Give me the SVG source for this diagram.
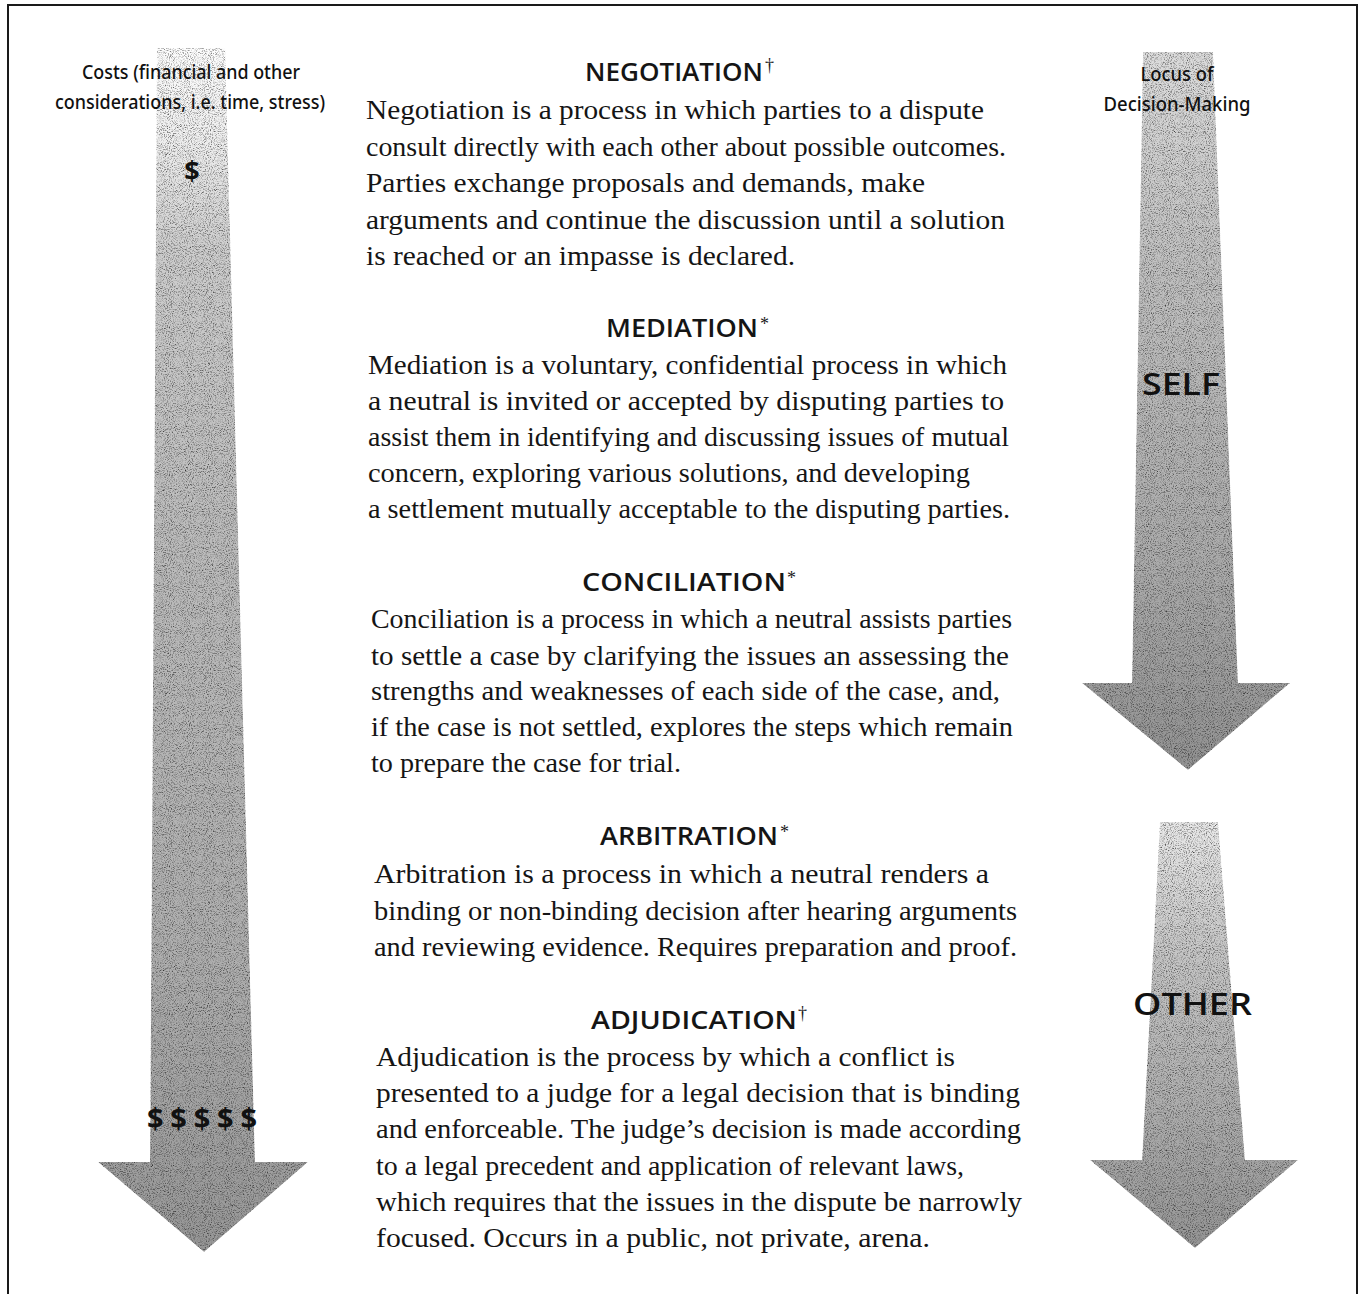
<svg xmlns="http://www.w3.org/2000/svg" width="1368" height="1294" viewBox="0 0 1368 1294">
<style>
.frame{fill:none;stroke:#1a1a1a;stroke-width:2}
.head{font-family:"Open Sans","Noto Sans",sans-serif;font-weight:600;font-size:25px;fill:#151515}
.sup{font-family:"Liberation Serif",serif;font-size:18px;fill:#1a1a1a}
.body{font-family:"Liberation Serif","Times New Roman",serif;font-size:28px;fill:#151515}
.lab{font-family:"Noto Sans","Open Sans",sans-serif;font-weight:500;font-size:20px;fill:#111}
.big{font-family:"Open Sans","Noto Sans",sans-serif;font-weight:600;font-size:30px;fill:#111}
.dol{font-family:"Open Sans","Noto Sans",sans-serif;font-weight:700;fill:#111}
</style>
<defs>
<filter id="grain" x="0" y="0" width="100%" height="100%" color-interpolation-filters="sRGB">
<feTurbulence type="fractalNoise" baseFrequency="0.95" numOctaves="2" seed="4" result="n"/>
<feColorMatrix in="n" type="matrix" values="0.8 0.8 0.8 0 -0.25  0.8 0.8 0.8 0 -0.25  0.8 0.8 0.8 0 -0.25  0 0 0 0 1" result="g"/>
<feBlend in="SourceGraphic" in2="g" mode="multiply" result="m"/>
<feComposite in="m" in2="SourceGraphic" operator="in"/>
</filter>
<linearGradient id="gL" gradientUnits="userSpaceOnUse" x1="0" y1="45" x2="0" y2="1252">
<stop offset="0" stop-color="#fdfdfd"/>
<stop offset="0.08" stop-color="#eeeeee"/>
<stop offset="0.17" stop-color="#cdcdcd"/>
<stop offset="0.4" stop-color="#bcbcbc"/>
<stop offset="0.75" stop-color="#afafaf"/>
<stop offset="1" stop-color="#979797"/>
</linearGradient>
<linearGradient id="gR1" gradientUnits="userSpaceOnUse" x1="0" y1="52" x2="0" y2="770">
<stop offset="0" stop-color="#dcdcdc"/>
<stop offset="0.3" stop-color="#c0c0c0"/>
<stop offset="0.7" stop-color="#acacac"/>
<stop offset="1" stop-color="#929292"/>
</linearGradient>
<linearGradient id="gR2" gradientUnits="userSpaceOnUse" x1="0" y1="822" x2="0" y2="1248">
<stop offset="0" stop-color="#e8e8e8"/>
<stop offset="0.3" stop-color="#c6c6c6"/>
<stop offset="0.7" stop-color="#acacac"/>
<stop offset="1" stop-color="#949494"/>
</linearGradient>
</defs>
<rect width="1368" height="1294" fill="#ffffff"/>
<path class="frame" d="M8,1294 L8,5 L1357,5 L1357,1294"/>

<g id="connectors">
<polygon id="cost-arrow" fill="url(#gL)" filter="url(#grain)" points="157,48 225,48 255,1162 308,1162 204,1252 98,1162 150,1162"/>
<polygon id="self-arrow" fill="url(#gR1)" filter="url(#grain)" points="1143,52 1213,52 1238,683 1290,683 1188,770 1082,683 1132,683"/>
<polygon id="other-arrow" fill="url(#gR2)" filter="url(#grain)" points="1160,822 1218,822 1245,1160 1298,1160 1195,1248 1090,1160 1142,1160"/>
</g>

<g id="costs-label">
<text class="lab" x="191" y="79" text-anchor="middle" textLength="218" lengthAdjust="spacingAndGlyphs">Costs (financial and other</text>
<text class="lab" x="190" y="109" text-anchor="middle" textLength="270" lengthAdjust="spacingAndGlyphs">considerations, i.e. time, stress)</text>
<text class="dol" x="192" y="180" text-anchor="middle" font-size="27">$</text>
<text class="dol" x="147" y="1129" font-size="29" textLength="110" lengthAdjust="spacing">$$$$$</text>
</g>

<g id="locus-label">
<text class="lab" x="1177" y="81" text-anchor="middle" textLength="73" lengthAdjust="spacingAndGlyphs">Locus of</text>
<text class="lab" x="1177" y="111" text-anchor="middle" textLength="147" lengthAdjust="spacingAndGlyphs">Decision-Making</text>
<text class="big" x="1142" y="395" textLength="78" lengthAdjust="spacingAndGlyphs">SELF</text>
<text class="big" x="1133" y="1015" textLength="119" lengthAdjust="spacingAndGlyphs">OTHER</text>
</g>

<g id="negotiation">
<text class="head" x="585" y="81" textLength="178" lengthAdjust="spacingAndGlyphs">NEGOTIATION</text>
<text class="sup" x="765" y="71">†</text>
<text class="body" x="366" y="119" textLength="618" lengthAdjust="spacingAndGlyphs">Negotiation is a process in which parties to a dispute</text>
<text class="body" x="366" y="156" textLength="640" lengthAdjust="spacingAndGlyphs">consult directly with each other about possible outcomes.</text>
<text class="body" x="366" y="192" textLength="559" lengthAdjust="spacingAndGlyphs">Parties exchange proposals and demands, make</text>
<text class="body" x="366" y="229" textLength="639" lengthAdjust="spacingAndGlyphs">arguments and  continue the discussion until a solution</text>
<text class="body" x="366" y="265" textLength="429" lengthAdjust="spacingAndGlyphs">is reached or an impasse is declared.</text>
</g>

<g id="mediation">
<text class="head" x="606" y="337" textLength="152" lengthAdjust="spacingAndGlyphs">MEDIATION</text>
<text class="sup" x="760" y="330">*</text>
<text class="body" x="368" y="374" textLength="639" lengthAdjust="spacingAndGlyphs">Mediation is a voluntary, confidential process in which</text>
<text class="body" x="368" y="410" textLength="636" lengthAdjust="spacingAndGlyphs">a neutral is invited or accepted by disputing parties to</text>
<text class="body" x="368" y="446" textLength="641" lengthAdjust="spacingAndGlyphs">assist them in identifying and discussing issues of mutual</text>
<text class="body" x="368" y="482" textLength="602" lengthAdjust="spacingAndGlyphs">concern, exploring various solutions, and developing</text>
<text class="body" x="368" y="518" textLength="642" lengthAdjust="spacingAndGlyphs">a settlement mutually acceptable to the disputing parties.</text>
</g>

<g id="conciliation">
<text class="head" x="582" y="591" textLength="204" lengthAdjust="spacingAndGlyphs">CONCILIATION</text>
<text class="sup" x="787" y="584">*</text>
<text class="body" x="371" y="628" textLength="641" lengthAdjust="spacingAndGlyphs">Conciliation is a process in which a neutral assists parties</text>
<text class="body" x="371" y="665" textLength="638" lengthAdjust="spacingAndGlyphs">to settle a case by clarifying the issues an assessing the</text>
<text class="body" x="371" y="700" textLength="629" lengthAdjust="spacingAndGlyphs">strengths and weaknesses of each side of the case, and,</text>
<text class="body" x="371" y="736" textLength="642" lengthAdjust="spacingAndGlyphs">if the case is not settled, explores the steps which remain</text>
<text class="body" x="371" y="772" textLength="310" lengthAdjust="spacingAndGlyphs">to prepare the case for trial.</text>
</g>

<g id="arbitration">
<text class="head" x="600" y="845" textLength="178" lengthAdjust="spacingAndGlyphs">ARBITRATION</text>
<text class="sup" x="780" y="838">*</text>
<text class="body" x="374" y="883" textLength="615" lengthAdjust="spacingAndGlyphs">Arbitration is a process in which a neutral renders a</text>
<text class="body" x="374" y="920" textLength="643" lengthAdjust="spacingAndGlyphs">binding or non-binding decision after hearing arguments</text>
<text class="body" x="374" y="956" textLength="643" lengthAdjust="spacingAndGlyphs">and reviewing evidence. Requires preparation and proof.</text>
</g>

<g id="adjudication">
<text class="head" x="591" y="1029" textLength="206" lengthAdjust="spacingAndGlyphs">ADJUDICATION</text>
<text class="sup" x="798" y="1019">†</text>
<text class="body" x="376" y="1066" textLength="579" lengthAdjust="spacingAndGlyphs">Adjudication is the process by which a conflict is</text>
<text class="body" x="376" y="1102" textLength="644" lengthAdjust="spacingAndGlyphs">presented to a judge for a legal decision that is binding</text>
<text class="body" x="376" y="1138" textLength="645" lengthAdjust="spacingAndGlyphs">and enforceable. The judge’s decision is made according</text>
<text class="body" x="376" y="1175" textLength="588" lengthAdjust="spacingAndGlyphs">to a legal precedent and application of relevant laws,</text>
<text class="body" x="376" y="1211" textLength="646" lengthAdjust="spacingAndGlyphs">which requires that the issues in the dispute be narrowly</text>
<text class="body" x="376" y="1247" textLength="554" lengthAdjust="spacingAndGlyphs">focused. Occurs in a public, not private, arena.</text>
</g>
</svg>
